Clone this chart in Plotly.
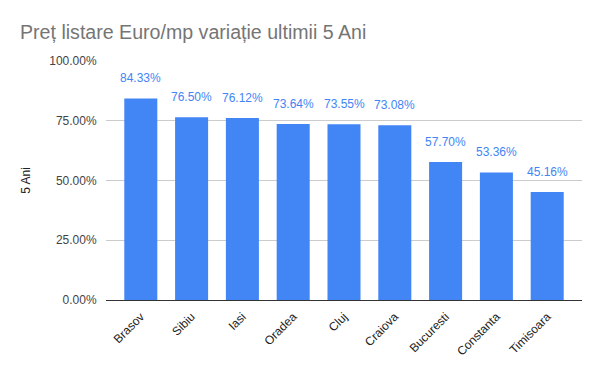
import plotly.graph_objects as go

cities = ["Brasov", "Sibiu", "Iasi", "Oradea", "Cluj", "Craiova", "Bucuresti", "Constanta", "Timisoara"]
values = [84.33, 76.50, 76.12, 73.64, 73.55, 73.08, 57.70, 53.36, 45.16]
y_ticks = [0, 25, 50, 75, 100]
y_tick_labels = ["0.00%", "25.00%", "50.00%", "75.00%", "100.00%"]

FONT = "Arial, Liberation Sans, sans-serif"

fig = go.Figure()
fig.add_trace(go.Bar(
    x=cities, y=values,
    marker=dict(color="#4285F4", line=dict(width=0)),
    hoverinfo="skip",
))
for c, v in zip(cities, values):
    fig.add_annotation(x=c, y=v, text=f"{v:.2f}%", showarrow=False,
                       yanchor="bottom", yshift=11,
                       font=dict(color="#4285F4", size=12, family=FONT))
fig.update_layout(
    width=600, height=371,
    margin=dict(l=106, r=18, t=61, b=71),
    paper_bgcolor="white", plot_bgcolor="white",
    bargap=0.35,
    showlegend=False,
    title=dict(text="Preț listare Euro/mp variație ultimii 5 Ani",
               x=20/600, xanchor="left", y=1-32/371, yanchor="middle",
               font=dict(size=19.6, color="#757575", family=FONT)),
    font=dict(family=FONT, size=12, color="#444444"),
)
fig.update_xaxes(
    range=[-0.685, 8.685],
    tickangle=-45,
    tickfont=dict(size=12, color="#222222"),
    showgrid=False, ticks="outside", ticklen=4, tickcolor="white",
    showline=False, automargin=False,
)
fig.update_yaxes(
    range=[0, 100],
    tickvals=y_ticks, ticktext=y_tick_labels,
    gridcolor="#cccccc", gridwidth=1,
    zeroline=True, zerolinecolor="#333333", zerolinewidth=1,
    tickfont=dict(size=12, color="#444444"),
    title=dict(text="5 Ani", font=dict(size=12, color="#222222"), standoff=16),
    ticklen=6, ticks="outside", tickcolor="white",
    automargin=False,
)
fig.write_html("out.html", config={"displayModeBar": False},
               post_script="document.body.style.margin='0';")
